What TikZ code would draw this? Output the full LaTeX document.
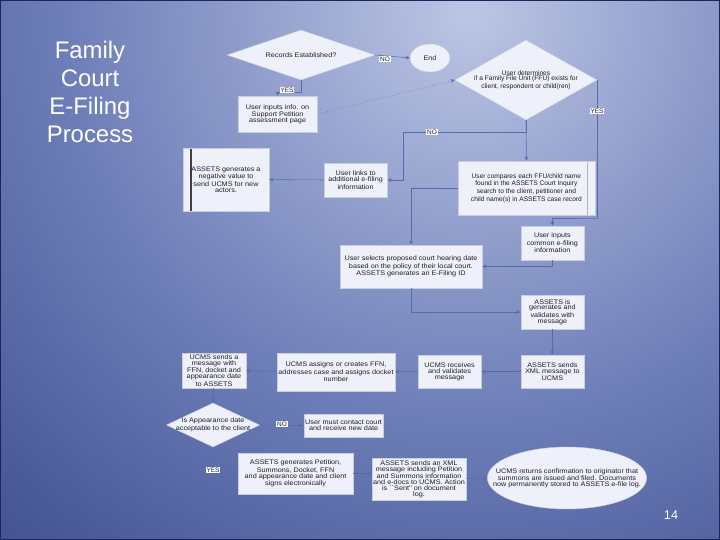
\documentclass[tikz,border=0pt]{standalone}
\usepackage{fontspec}
\setmainfont{Liberation Sans}
\newfontfamily\boxfont{Liberation Sans}[FakeStretch=1.1]
\usetikzlibrary{shapes.geometric, arrows.meta, calc}
\definecolor{bgtop}{RGB}{188,198,228}
\definecolor{bgmid}{RGB}{110,126,184}
\definecolor{bgdeep}{RGB}{40,56,124}
\definecolor{bgdark}{RGB}{26,38,96}
\definecolor{boxfill}{RGB}{238,241,249}
\definecolor{boxline}{RGB}{200,206,226}
\definecolor{boxtext}{RGB}{30,30,40}
\definecolor{linkblue}{RGB}{88,106,176}
\pgfdeclareradialshading{slidebg}{\pgfpoint{0bp}{0bp}}{color(0bp)=(bgtop); color(14bp)=(bgmid); color(31bp)=(bgdeep); color(50bp)=(bgdark)}

\begin{document}
\begin{tikzpicture}[
    box/.style={rectangle, draw=boxline, line width=0.3pt, fill=boxfill, text=boxtext,
      font=\boxfont\fontsize{4.7}{4.1}\selectfont, align=center, inner sep=1pt},
    decision/.style={diamond, draw=boxline, line width=0.3pt, fill=boxfill, inner sep=0pt},
    oval/.style={ellipse, draw=boxline, line width=0.3pt, fill=boxfill, inner sep=0pt},
    inside/.style={text=boxtext, font=\boxfont\fontsize{4.7}{4.1}\selectfont, align=center, inner sep=0pt},
    flow/.style={draw=linkblue, line width=0.4pt, -{Stealth[length=3pt, width=2.6pt]}},
    tag/.style={fill=white, text=boxtext, font=\fontsize{4.6}{4.5}\selectfont, inner sep=0.7pt}
  ]
  \useasboundingbox (0, 0) rectangle (18, 13.5);

  % Slide background
  \begin{scope}
    \clip (0, 0) rectangle (18, 13.5);
    \shade[shading=slidebg] (11.75, 13.2) circle (18);
  \end{scope}
  \draw[bgdark, line width=1pt] (0, 0) rectangle (18, 13.5);

  % Title
  \node[text=white, font=\fontsize{17}{19.9}\selectfont, align=center] (title) at (2.25, 11.21)
    {Family\\Court\\E-Filing\\Process};
  \node[text=white, font=\fontsize{9}{10}\selectfont] (pageno) at (16.775, 0.625) {14};

  % Top decisions
  \node[decision, minimum width=3.7cm, minimum height=1.25cm,
    label={[inside]center:Records Established?}] (rec) at (7.525, 12.125) {};
  \node[oval, minimum width=1.0cm, minimum height=0.7cm,
    label={[inside]center:End}] (stop) at (10.75, 12.05) {};
  \node[decision, minimum width=3.55cm, minimum height=2.0cm,
    label={[inside, font=\fontsize{4.7}{4.1}\selectfont]center:{User determines\\if a Family File Unit (FFU) exists for\\client, respondent or child(ren)}}] (ffu) at (13.15, 11.5) {};
  \node[box, minimum width=1.98cm, minimum height=0.9cm] (input) at (6.94, 10.65)
    {User inputs info. on\\Support Petition\\assessment page};

  % Second row
  \node[box, minimum width=2.15cm, minimum height=1.58cm,
    path picture={\draw[black!75, line width=0.8pt]
      ([xshift=0.2cm]path picture bounding box.north west) -- ([xshift=0.2cm]path picture bounding box.south west);}]
    (assets) at (5.65, 9.01) {ASSETS generates a\\negative value to\\send UCMS for new\\actors.};
  \node[box, minimum width=1.58cm, minimum height=0.85cm] (links) at (8.89, 9.0)
    {User links to\\additional e-filing\\information};
  \node[box, minimum width=3.43cm, minimum height=1.35cm, font=\fontsize{4.7}{4.1}\selectfont,
    path picture={\draw[gray!60, line width=0.5pt]
      ([xshift=-0.2cm]path picture bounding box.north east) -- ([xshift=-0.2cm]path picture bounding box.south east);}]
    (compare) at (13.16, 8.8)
    {User compares each FFU/child name\\found in the ASSETS Court Inquiry\\search to the client, petitioner and\\child name(s) in ASSETS case record};

  % Right column
  \node[box, minimum width=1.58cm, minimum height=0.85cm] (common) at (13.81, 7.425)
    {User inputs\\common e-filing\\information};
  \node[box, minimum width=3.55cm, minimum height=1.08cm] (select) at (10.275, 6.84)
    {User selects proposed court hearing date\\based on the policy of their local court.\\ASSETS generates an E-Filing ID};
  \node[box, minimum width=1.58cm, minimum height=0.85cm] (valid) at (13.81, 5.7)
    {ASSETS is\\generates and\\validates with\\message};
  \node[box, minimum width=1.58cm, minimum height=0.83cm] (sendmsg) at (13.81, 4.21)
    {ASSETS sends\\XML message to\\UCMS};

  % UCMS row
  \node[box, minimum width=1.58cm, minimum height=0.83cm] (ucmsrecv) at (11.24, 4.21)
    {UCMS receives\\and validates\\message};
  \node[box, minimum width=2.95cm, minimum height=0.95cm] (assign) at (8.4, 4.2)
    {UCMS assigns or creates FFN,\\addresses case and assigns docket\\number};
  \node[box, minimum width=1.6cm, minimum height=0.88cm] (ucmssend) at (5.35, 4.24)
    {UCMS sends a\\message with\\FFN, docket and\\appearance date\\to ASSETS};

  % Bottom
  \node[decision, minimum width=2.33cm, minimum height=1.1cm,
    label={[inside]center:{Is Appearance date\\acceptable to the client}}] (appear) at (5.325, 2.875) {};
  \node[box, minimum width=1.98cm, minimum height=0.58cm] (contact) at (8.59, 2.86)
    {User must contact court\\and receive new date};
  \node[box, minimum width=2.88cm, minimum height=1.03cm] (gen) at (7.39, 1.66)
    {ASSETS generates Petition,\\Summons, Docket, FFN\\and appearance date and client\\signs electronically};
  \node[box, minimum width=2.35cm, minimum height=1.05cm] (xml) at (10.475, 1.525)
    {ASSETS sends an XML\\message including Petition\\and Summons information\\and e-docs to UCMS. Action\\is ``Sent'' on document\\log.};
  \node[oval, minimum width=3.98cm, minimum height=1.55cm,
    label={[inside]center:{UCMS returns confirmation to originator that\\summons are issued and filed. Documents\\now permanently stored to ASSETS e-file log.}}] (ucmsconf) at (14.175, 1.55) {};

  % Connectors
  \coordinate (nojoin) at (10.075, 10.2);
  \coordinate (yesjoin) at (14.925, 8.05);
  \draw[flow] (rec.east) -- (stop.west);
  \draw[flow] (rec.south) -- ++(0, -0.3) -| (input.north);
  \draw[flow, dotted] (input.east) -- (ffu.west);
  \draw[flow] (ffu.south) -- (compare.north);
  \draw[flow] (ffu.south) |- (nojoin) |- (links.east);
  \draw[flow] (ffu.east) |- (yesjoin) -| (common.north);
  \draw[flow] (links.west) -- (assets.east);
  \draw[flow] (compare.west) -| (select.north);
  \draw[flow] (common.south) |- (select.east);
  \draw[flow] (select.south) |- (valid.west);
  \draw[flow] (valid) -- (sendmsg);
  \draw[flow] (sendmsg) -- (ucmsrecv);
  \draw[flow] (ucmsrecv) -- (assign);
  \draw[flow] (assign) -- (ucmssend);
  \draw[flow] (ucmssend) -- (appear);
  \draw[flow] (appear.east) -- (contact.west);
  \draw[flow] (appear.south) |- (gen.west);
  \draw[flow] (gen.east) -- (gen.east -| xml.west);
  \draw[flow] (xml) -- (ucmsconf);

  % Branch labels
  \node[tag] (noA) at (9.625, 12.025) {NO};
  \node[tag] (yesA) at (7.175, 11.25) {YES};
  \node[tag] (yesB) at (14.925, 10.725) {YES};
  \node[tag] (noB) at (10.8, 10.2) {NO};
  \node[tag] (noC) at (7.05, 2.9) {NO};
  \node[tag] (yesC) at (5.325, 1.75) {YES};
\end{tikzpicture}
\end{document}
